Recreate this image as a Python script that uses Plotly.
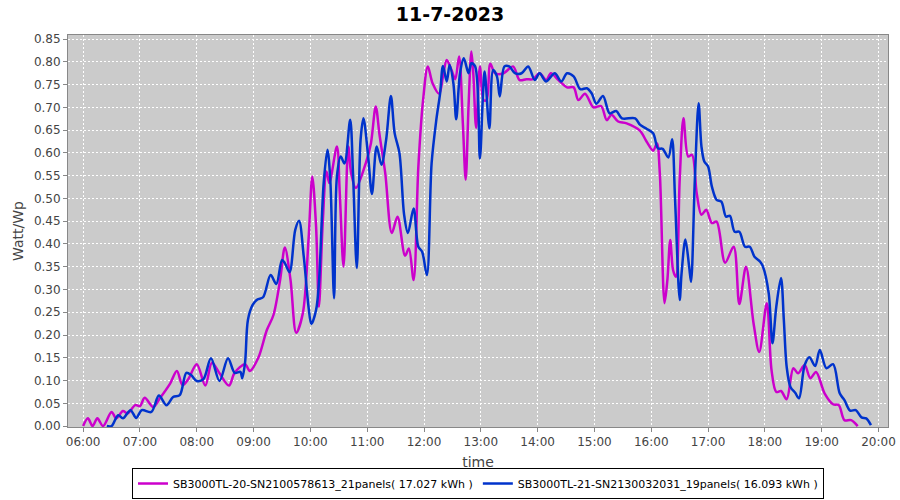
import plotly.graph_objects as go

DAY = "2023-07-11 "

m_name = "SB3000TL-20-SN2100578613_21panels( 17.027 kWh )"
m_times = ["06:00","06:05","06:10","06:15","06:21","06:30","06:35","06:42","06:47","06:55",
           "07:00","07:05","07:14","07:21","07:32","07:39","07:45","07:51","08:00","08:09",
           "08:16","08:24","08:34","08:40","08:51","08:56","09:05","09:14","09:21","09:28",
           "09:33","09:39","09:45","09:52","09:58","10:02","10:06","10:09","10:13","10:17",
           "10:20","10:28","10:31","10:35","10:40","10:43","10:48","10:59","11:04","11:09",
           "11:13","11:19","11:26","11:32","11:40","11:44","11:49","11:54","11:59","12:04",
           "12:09","12:16","12:20","12:24","12:29","12:33","12:37","12:41","12:44","12:47",
           "12:50","12:52","12:55","12:59","13:03","13:06","13:10","13:15","13:24","13:34",
           "13:41","13:48","13:55","14:02","14:09","14:14","14:22","14:31","14:38","14:43",
           "14:50","14:59","15:07","15:13","15:18","15:25","15:34","15:48","15:55","16:02",
           "16:06","16:09","16:14","16:17","16:20","16:23","16:26","16:30","16:34","16:39",
           "16:43","16:48","16:53","16:58","17:04","17:09","17:18","17:27","17:33","17:40",
           "17:48","17:54","18:02","18:07","18:12","18:17","18:23","18:30","18:35","18:42",
           "18:48","18:54","19:03","19:12","19:18","19:24","19:31","19:38"]
m_vals = [0.000,0.017,0.000,0.017,0.000,0.031,0.017,0.033,0.028,0.046,
          0.044,0.062,0.042,0.061,0.094,0.121,0.090,0.103,0.136,0.089,
          0.139,0.116,0.089,0.117,0.136,0.121,0.150,0.211,0.244,0.321,
          0.392,0.321,0.205,0.248,0.409,0.548,0.438,0.262,0.446,0.559,
          0.534,0.614,0.512,0.350,0.614,0.556,0.523,0.581,0.622,0.702,
          0.640,0.556,0.424,0.460,0.374,0.390,0.321,0.570,0.716,0.790,
          0.753,0.730,0.768,0.804,0.782,0.762,0.812,0.665,0.541,0.702,
          0.823,0.776,0.655,0.790,0.716,0.716,0.796,0.775,0.775,0.790,
          0.760,0.762,0.762,0.775,0.760,0.775,0.760,0.744,0.744,0.716,
          0.730,0.700,0.703,0.672,0.684,0.669,0.665,0.649,0.625,0.605,
          0.621,0.556,0.270,0.321,0.409,0.343,0.328,0.541,0.676,0.592,
          0.596,0.511,0.464,0.475,0.446,0.449,0.359,0.394,0.268,0.350,
          0.226,0.163,0.270,0.123,0.075,0.077,0.059,0.127,0.116,0.134,
          0.105,0.119,0.072,0.048,0.046,0.013,0.013,0.000]

b_name = "SB3000TL-21-SN2130032031_19panels( 16.093 kWh )"
b_times = ["06:25","06:30","06:37","06:42","06:50","06:56","07:02","07:12","07:20","07:28",
           "07:35","07:42","07:49","07:54","08:00","08:07","08:15","08:24","08:33","08:40",
           "08:46","08:48","08:51","08:54","08:59","09:04","09:10","09:18","09:24","09:30",
           "09:33","09:38","09:44","09:48","09:53","09:58","10:01","10:06","10:09","10:14",
           "10:18","10:21","10:25","10:28","10:32","10:36","10:42","10:45","10:49","10:53",
           "10:56","11:01","11:05","11:10","11:15","11:20","11:25","11:29","11:34","11:39",
           "11:43","11:49","11:54","11:58","12:03","12:08","12:13","12:17","12:20","12:24",
           "12:27","12:31","12:34","12:38","12:42","12:47","12:50","12:54","12:59","13:02",
           "13:04","13:09","13:13","13:17","13:20","13:25","13:30","13:36","13:43","13:50",
           "13:57","14:02","14:09","14:18","14:25","14:31","14:38","14:45","14:52","14:57",
           "15:02","15:09","15:16","15:23","15:29","15:43","15:48","15:55","16:02","16:07",
           "16:12","16:18","16:22","16:25","16:30","16:32","16:36","16:40","16:42","16:46",
           "16:50","16:53","16:56","17:00","17:04","17:09","17:14","17:19","17:23","17:28",
           "17:33","17:39","17:44","17:49","17:55","17:58","18:04","18:08","18:12","18:17",
           "18:20","18:23","18:27","18:32","18:36","18:42","18:47","18:53","18:58","19:05",
           "19:12","19:19","19:24","19:30","19:36","19:42","19:47","19:52"]
b_vals = [0.000,0.000,0.024,0.017,0.035,0.018,0.035,0.031,0.067,0.046,
          0.064,0.068,0.117,0.112,0.099,0.103,0.149,0.099,0.149,0.117,
          0.119,0.105,0.140,0.233,0.266,0.278,0.283,0.332,0.312,0.365,
          0.358,0.338,0.431,0.451,0.372,0.262,0.224,0.255,0.314,0.533,
          0.607,0.541,0.281,0.548,0.592,0.577,0.673,0.555,0.347,0.629,
          0.676,0.592,0.510,0.614,0.574,0.629,0.725,0.643,0.600,0.464,
          0.424,0.478,0.394,0.383,0.332,0.577,0.673,0.731,0.791,0.757,
          0.793,0.753,0.674,0.775,0.808,0.775,0.797,0.790,0.588,0.716,
          0.779,0.654,0.782,0.768,0.724,0.790,0.790,0.775,0.775,0.790,
          0.760,0.775,0.757,0.775,0.757,0.775,0.768,0.740,0.742,0.731,
          0.708,0.725,0.687,0.692,0.676,0.676,0.662,0.653,0.643,0.610,
          0.609,0.590,0.630,0.504,0.277,0.336,0.410,0.350,0.317,0.541,
          0.709,0.614,0.581,0.570,0.526,0.497,0.493,0.460,0.462,0.427,
          0.427,0.394,0.394,0.372,0.361,0.350,0.292,0.182,0.262,0.325,
          0.233,0.130,0.086,0.073,0.061,0.134,0.151,0.132,0.167,0.127,
          0.136,0.072,0.057,0.034,0.035,0.019,0.017,0.002]

x_ticks = ["%02d:00" % h for h in range(6, 21)]

FONT = "DejaVu Sans"

fig = go.Figure()
fig.add_trace(go.Scatter(x=[DAY + t for t in m_times], y=m_vals, name=m_name, mode="lines",
                         line=dict(color="#cc00cc", width=2.5, shape="spline", smoothing=0.9)))
fig.add_trace(go.Scatter(x=[DAY + t for t in b_times], y=b_vals, name=b_name, mode="lines",
                         line=dict(color="#0033cc", width=2.5, shape="spline", smoothing=0.9)))

fig.update_layout(
    width=900, height=500,
    margin=dict(l=68, r=12, t=35, b=73, autoexpand=False),
    paper_bgcolor="white", plot_bgcolor="#cbcbcb",
    font=dict(family=FONT, size=12, color="#444444"),
    title=dict(text="<b>11-7-2023</b>", x=0.5, xanchor="center", y=0.972, yanchor="middle",
               font=dict(family=FONT, size=19, color="black")),
    showlegend=True,
    legend=dict(orientation="h", x=0.5, xanchor="center", y=-0.1837, yanchor="bottom",
                bordercolor="black", borderwidth=1, bgcolor="white",
                font=dict(family=FONT, size=11, color="black"), itemwidth=30,
                tracegroupgap=0),
)
fig.update_xaxes(
    type="date", automargin=False,
    range=[DAY + "05:44", DAY + "20:10"],
    tickvals=[DAY + t for t in x_ticks], ticktext=x_ticks,
    showgrid=True, gridcolor="white", griddash="2px,2px", gridwidth=1,
    showline=True, linecolor="#888888", linewidth=1, mirror=True,
    ticks="outside", ticklen=4, tickcolor="#888888",
    title=dict(text="time", font=dict(family=FONT, size=14, color="#444444"), standoff=8),
    zeroline=False,
)
fig.update_yaxes(
    automargin=False,
    range=[-0.002, 0.859], dtick=0.05, tick0=0, tickformat=".2f",
    showgrid=True, gridcolor="white", griddash="2px,2px", gridwidth=1,
    showline=True, linecolor="#888888", linewidth=1, mirror=True,
    ticks="outside", ticklen=4, tickcolor="#888888",
    title=dict(text="Watt/Wp", font=dict(family=FONT, size=14, color="#444444"), standoff=6),
    zeroline=False,
)
fig.write_html("out.html", config={"displayModeBar": False},
               post_script="document.body.style.margin='0';document.body.style.overflow='hidden';")
